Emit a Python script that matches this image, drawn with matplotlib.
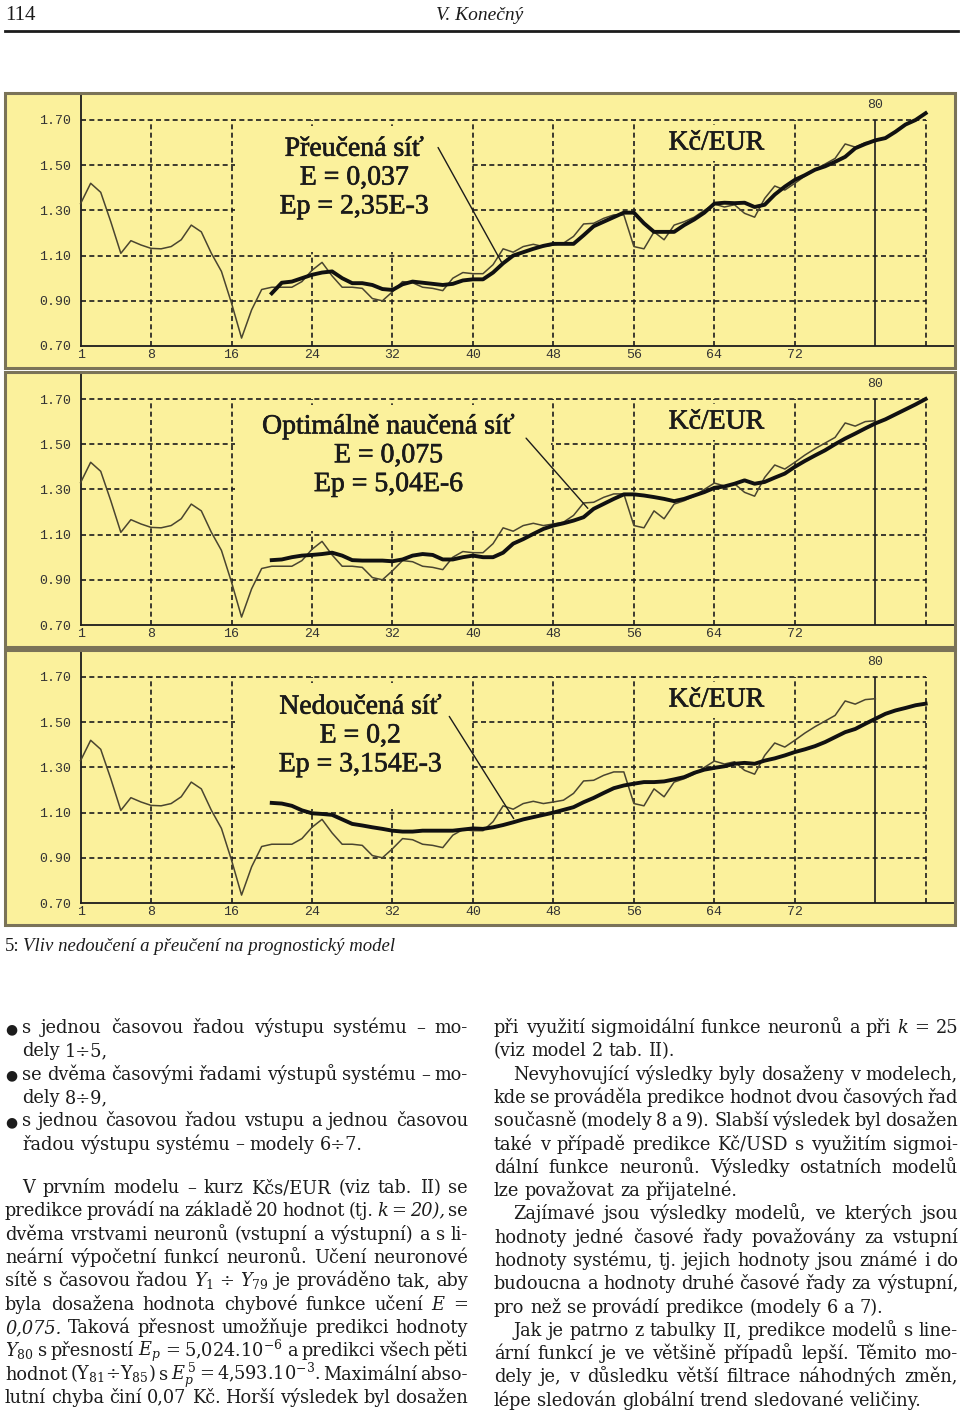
import matplotlib
matplotlib.use("Agg")
import matplotlib.pyplot as plt
import matplotlib.patheffects as pe
from matplotlib.patches import Rectangle

W, H = 960, 1418

# actual course Kc/EUR, samples 1..80
t_actual = list(range(1, 81))
actual = [1.33, 1.42, 1.38, 1.25, 1.11, 1.166, 1.147, 1.132, 1.13, 1.14,
          1.17, 1.235, 1.205, 1.11, 1.03, 0.89, 0.735, 0.86, 0.95, 0.96,
          0.96, 0.96, 0.985, 1.035, 1.07, 1.01, 0.96, 0.96, 0.955, 0.91,
          0.90, 0.94, 0.985, 0.98, 0.96, 0.955, 0.945, 1.0, 1.025, 1.02,
          1.02, 1.06, 1.13, 1.115, 1.14, 1.15, 1.14, 1.147, 1.155, 1.185,
          1.24, 1.243, 1.265, 1.28, 1.28, 1.14, 1.13, 1.205, 1.17, 1.235,
          1.25, 1.27, 1.30, 1.328, 1.315, 1.325, 1.287, 1.27, 1.353, 1.408,
          1.39, 1.42, 1.452, 1.48, 1.505, 1.53, 1.594, 1.58, 1.60, 1.604]

# network outputs, samples 20..85
t_pred = list(range(20, 86))
pred_over = [0.933, 0.98, 0.985, 1.0, 1.015, 1.025, 1.03, 1.0, 0.978, 0.978,
             0.97, 0.952, 0.948, 0.973, 0.985, 0.98, 0.975, 0.97, 0.975, 0.99,
             0.995, 0.995, 1.025, 1.066, 1.10, 1.115, 1.13, 1.143, 1.152, 1.152,
             1.152, 1.19, 1.23, 1.25, 1.27, 1.29, 1.29, 1.243, 1.205, 1.205,
             1.205, 1.235, 1.26, 1.29, 1.33, 1.334, 1.332, 1.334, 1.315, 1.325,
             1.37, 1.405, 1.435, 1.456, 1.48, 1.495, 1.515, 1.537, 1.575, 1.594,
             1.61, 1.62, 1.648, 1.68, 1.70, 1.73]
pred_opt = [0.987, 0.99, 1.0, 1.007, 1.01, 1.014, 1.02, 1.007, 0.987, 0.985,
            0.985, 0.985, 0.982, 0.99, 1.007, 1.014, 1.01, 0.99, 0.99, 1.0,
            1.007, 1.0, 1.0, 1.02, 1.06, 1.08, 1.103, 1.125, 1.14, 1.15,
            1.162, 1.177, 1.214, 1.236, 1.258, 1.278, 1.278, 1.273, 1.266, 1.258,
            1.248, 1.258, 1.273, 1.288, 1.307, 1.313, 1.325, 1.34, 1.325, 1.333,
            1.352, 1.37, 1.40, 1.426, 1.45, 1.473, 1.50, 1.525, 1.547, 1.57,
            1.592, 1.61, 1.632, 1.654, 1.676, 1.70]
pred_under = [1.143, 1.14, 1.13, 1.11, 1.097, 1.094, 1.09, 1.07, 1.05, 1.043,
              1.035, 1.028, 1.02, 1.016, 1.016, 1.02, 1.02, 1.02, 1.02, 1.025,
              1.03, 1.028, 1.035, 1.045, 1.057, 1.07, 1.08, 1.09, 1.10, 1.112,
              1.124, 1.146, 1.165, 1.187, 1.208, 1.22, 1.228, 1.235, 1.235, 1.238,
              1.247, 1.257, 1.276, 1.29, 1.298, 1.305, 1.316, 1.32, 1.316, 1.33,
              1.34, 1.353, 1.368, 1.38, 1.394, 1.412, 1.434, 1.456, 1.47, 1.493,
              1.515, 1.537, 1.552, 1.563, 1.575, 1.582]

y_ticks = [0.70, 0.90, 1.10, 1.30, 1.50, 1.70]
y_labels = ["0.70", "0.90", "1.10", "1.30", "1.50", "1.70"]
x_ticks = [1, 8, 16, 24, 32, 40, 48, 56, 64, 72]
x_labels = ["1", "8", "16", "24", "32", "40", "48", "56", "64", "72"]
grid_x = [8, 16, 24, 32, 40, 48, 56, 64, 72, 85]
grid_y = [0.90, 1.10, 1.30, 1.50, 1.70]

titles = ["Přeučená síť\nE = 0,037\nEp = 2,35E-3",
          "Optimálně naučená síť\nE = 0,075\nEp = 5,04E-6",
          "Nedoučená síť\nE = 0,2\nEp = 3,154E-3"]
title_pos = [(28.2, 1.443), (31.6, 1.451), (28.8, 1.439)]
pointers = [((36.4, 1.589), (43.0, 1.058)),
            ((45.1, 1.536), (51.6, 1.207)),
            ((37.5, 1.536), (44.2, 1.063))]
mask_right = [39.7, 47.8, 39.7]
preds = [pred_over, pred_opt, pred_under]
panel_tops = [93, 372, 650]

bg = "#fbf19c"
ink = "#1c1c1c"
mono = "Liberation Mono"
serif = "Liberation Serif"

plt.rcParams["mathtext.fontset"] = "custom"
plt.rcParams["mathtext.rm"] = "DejaVu Serif"
plt.rcParams["mathtext.it"] = "DejaVu Serif:italic"

fig = plt.figure(figsize=(W / 100, H / 100), dpi=100)
fig.patch.set_facecolor("white")
renderer = fig.canvas.get_renderer()

# data -> pixel scale of the screen charts
px_per_x = 10.06
x1_px = 80.6
px_per_y = 226.0
panel_h = 275
heavy = [pe.withStroke(linewidth=0.45, foreground="#1a1a1a")]

for i in range(3):
    top = panel_tops[i]
    ax = fig.add_axes([5 / W, 1 - (top + panel_h) / H, 950 / W, panel_h / H])
    ax.set_facecolor(bg)
    ax.set_xlim(1 - (x1_px - 5) / px_per_x, 1 + (955 - x1_px) / px_per_x)
    ax.set_ylim(1.70 - (panel_h - 27) / px_per_y, 1.70 + 27 / px_per_y)
    for s in ["top", "right"]:
        ax.spines[s].set_visible(False)
    ax.spines["left"].set_position(("data", 1))
    ax.spines["left"].set_bounds(0.70, ax.get_ylim()[1])
    ax.spines["bottom"].set_position(("data", 0.70))
    ax.spines["bottom"].set_bounds(1, ax.get_xlim()[1])
    for s in ["left", "bottom"]:
        ax.spines[s].set_linewidth(1.3)
        ax.spines[s].set_color(ink)
    ax.add_patch(Rectangle((0, 0), 1, 1, transform=ax.transAxes, fill=False,
                           edgecolor="#7a7358", lw=2.2, clip_on=False, zorder=10))

    ax.set_yticks(y_ticks)
    ax.set_yticklabels(y_labels, fontfamily=mono, fontsize=9.5, color="#333333")
    ax.set_xticks(x_ticks)
    ax.set_xticklabels(x_labels, fontfamily=mono, fontsize=9.5, color="#333333")
    ax.tick_params(axis="y", length=0, pad=7)
    ax.tick_params(axis="x", length=0, pad=2)

    ax.hlines(grid_y, 1, 85, colors=ink, linestyles=(0, (3, 2)), lw=1.2, zorder=1)
    ax.vlines(grid_x, 0.70, 1.70, colors=ink, linestyles=(0, (3, 2)), lw=1.2, zorder=1)
    ax.vlines(80, 0.70, 1.70, colors=ink, lw=1.2, zorder=2)
    ax.text(80, 1.765, "80", ha="center", va="center", fontfamily=mono,
            fontsize=9.5, color="#333333")

    # areas behind the labels are free of grid
    ax.add_patch(Rectangle((16.3, 1.115), mask_right[i] - 16.3, 0.56,
                           facecolor=bg, edgecolor="none", zorder=1.5))
    ax.add_patch(Rectangle((56.3, 1.52), 15.4, 0.16,
                           facecolor=bg, edgecolor="none", zorder=1.5))

    ax.plot(t_actual, actual, color="#4a4530", lw=1.1, zorder=3)
    ax.plot(t_pred, preds[i], color="#111111", lw=2.8, zorder=4)

    ax.text(title_pos[i][0], title_pos[i][1], titles[i], ha="center", va="center",
            multialignment="center", fontfamily=serif, fontsize=20,
            linespacing=1.2, color="#1a1a1a", zorder=5, path_effects=heavy)
    ax.text(64.2, 1.598, "Kč/EUR", ha="center", va="center", fontfamily=serif,
            fontsize=20, color="#1a1a1a", zorder=5, path_effects=heavy)
    ax.annotate("", xy=pointers[i][1], xytext=pointers[i][0],
                arrowprops=dict(arrowstyle="-", color=ink, lw=1.0), zorder=5)

# page header
fig.text(5 / W, 1 - 20 / H, "114", fontfamily=serif, fontsize=15, color=ink,
         va="baseline")
fig.text(480 / W, 1 - 20 / H, "V. Konečný", fontfamily=serif, style="italic",
         fontsize=14, color=ink, ha="center", va="baseline")
fig.add_artist(plt.Line2D([5 / W, 958 / W], [1 - 31 / H, 1 - 31 / H],
                          color=ink, lw=2))

# caption
cap_num = fig.text(5 / W, 1 - 951 / H, "5:", fontfamily=serif, fontsize=13.5,
                   color=ink, va="baseline")
w_num = cap_num.get_window_extent(renderer).width
fig.text((5 + w_num + 3) / W, 1 - 951 / H,
         "Vliv nedoučení a přeučení na prognostický model",
         fontfamily=serif, style="italic", fontsize=13.5, color=ink, va="baseline")

# body text
body_font = dict(fontfamily="DejaVu Serif", fontsize=12.8, color=ink, va="baseline")
probe_a = fig.text(0, 0, "x x", **body_font)
probe_b = fig.text(0, 0, "xx", **body_font)
space_w = probe_a.get_window_extent(renderer).width - probe_b.get_window_extent(renderer).width
probe_a.remove()
probe_b.remove()


def put_line(text, x0, x1, y, justify):
    words = text.split(" ")
    objs = []
    for w in words:
        if w.startswith("|"):
            objs.append(fig.text(0, 1 - y / H, w[1:], style="italic", **body_font))
        else:
            objs.append(fig.text(0, 1 - y / H, w, **body_font))
    widths = [o.get_window_extent(renderer).width for o in objs]
    gap = space_w
    if justify and len(words) > 1:
        gap = (x1 - x0 - sum(widths)) / (len(words) - 1)
    x = x0
    for o, w in zip(objs, widths):
        o.set_x(x / W)
        x += w + gap


# (text, start x, justified, bullet); words starting with | are italic
left_lines = [
    ("s jednou časovou řadou výstupu systému – mo-", 22, True, True),
    ("dely 1÷5,", 22, False, False),
    ("se dvěma časovými řadami výstupů systému – mo-", 22, True, True),
    ("dely 8÷9,", 22, False, False),
    ("s jednou časovou řadou vstupu a jednou časovou", 22, True, True),
    ("řadou výstupu systému – modely 6÷7.", 22, False, False),
    None,
    ("V prvním modelu – kurz Kčs/EUR (viz tab. II) se", 22, True, False),
    ("predikce provádí na základě 20 hodnot (tj. |k |= |20), se", 5, True, False),
    ("dvěma vrstvami neuronů (vstupní a výstupní) a s li-", 5, True, False),
    ("neární výpočetní funkcí neuronů. Učení neuronové", 5, True, False),
    ("sítě s časovou řadou $Y_1$ ÷ $Y_{79}$ je prováděno tak, aby", 5, True, False),
    ("byla dosažena hodnota chybové funkce učení |E =", 5, True, False),
    ("|0,075. Taková přesnost umožňuje predikci hodnoty", 5, True, False),
    ("$Y_{80}$ s přesností $E_p$ = 5,024.10$^{-6}$ a predikci všech pěti", 5, True, False),
    ("hodnot (Y$_{81}$÷Y$_{85}$) s $E_p^{\\,5}$ = 4,593.10$^{-3}$. Maximální abso-", 5, True, False),
    ("lutní chyba činí 0,07 Kč. Horší výsledek byl dosažen", 5, True, False),
]
right_lines = [
    ("při využití sigmoidální funkce neuronů a při |k = 25", 494, True),
    ("(viz model 2 tab. II).", 494, False),
    ("Nevyhovující výsledky byly dosaženy v modelech,", 513, True),
    ("kde se prováděla predikce hodnot dvou časových řad", 494, True),
    ("současně (modely 8 a 9). Slabší výsledek byl dosažen", 494, True),
    ("také v případě predikce Kč/USD s využitím sigmoi-", 494, True),
    ("dální funkce neuronů. Výsledky ostatních modelů", 494, True),
    ("lze považovat za přijatelné.", 494, False),
    ("Zajímavé jsou výsledky modelů, ve kterých jsou", 513, True),
    ("hodnoty jedné časové řady považovány za vstupní", 494, True),
    ("hodnoty systému, tj. jejich hodnoty jsou známé i do", 494, True),
    ("budoucna a hodnoty druhé časové řady za výstupní,", 494, True),
    ("pro než se provádí predikce (modely 6 a 7).", 494, False),
    ("Jak je patrno z tabulky II, predikce modelů s line-", 513, True),
    ("ární funkcí je ve většině případů lepší. Těmito mo-", 494, True),
    ("dely je, v důsledku větší filtrace náhodných změn,", 494, True),
    ("lépe sledován globální trend sledované veličiny.", 494, False),
]

line_step = 23.3
base0 = 1033
for k, item in enumerate(left_lines):
    if item is None:
        continue
    text, x0, just, bullet = item
    y = base0 + k * line_step - (3 if k > 6 else 0)
    put_line(text, x0, 468, y, just)
    if bullet:
        fig.text(11 / W, 1 - y / H, "●", fontfamily="DejaVu Sans", fontsize=10,
                 color=ink, ha="center", va="baseline")

for k, (text, x0, just) in enumerate(right_lines):
    put_line(text, x0, 958, base0 + k * line_step, just)

fig.savefig("out.png", dpi=100)
